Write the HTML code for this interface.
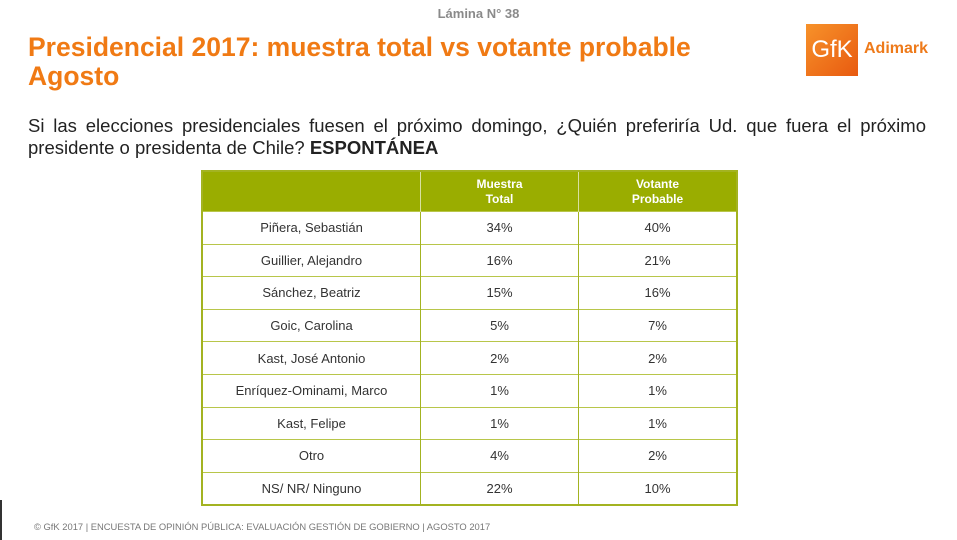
<!DOCTYPE html>
<html><head><meta charset="utf-8">
<style>
body{margin:0;width:957px;height:540px;background:#fff;position:relative;overflow:hidden;font-family:"Liberation Sans",sans-serif;}
.abs{position:absolute;}
#lamina{left:0;width:957px;top:6px;text-align:center;font-size:13px;font-weight:bold;color:#8a8a8a;}
#title{left:28px;top:33px;font-size:26.5px;font-weight:bold;color:#f07a14;line-height:29px;white-space:nowrap;}
#q{left:28px;top:115px;width:898px;font-size:18.5px;color:#222;line-height:22px;}
#q .l1{text-align:justify;text-align-last:justify;white-space:nowrap;}
#logo{left:806px;top:24px;width:52px;height:52px;background:linear-gradient(135deg,#f7922a,#e85a10);color:#fff;font-size:24px;line-height:52px;text-align:center;}
#adm{left:864px;top:40px;font-size:16px;font-weight:bold;color:#ee7a1a;}
table{position:absolute;left:201px;top:170px;border-collapse:collapse;border:2px solid #a3b321;}
th{background:#9aad00;color:#fff;font-size:12px;font-weight:bold;height:39px;padding:0;line-height:15px;border-left:1px solid #d8e0a0;}
td{height:31.6px;padding:0;text-align:center;font-size:13px;color:#333;border-top:1px solid #b8c64a;border-left:1px solid #a3b321;}
#foot{left:34px;top:521px;font-size:9.4px;color:#777;white-space:nowrap;}
#edge{left:0;top:500px;width:2px;height:40px;background:#333;}
</style></head><body>
<div class="abs" id="lamina">Lámina N° 38</div>
<div class="abs" id="title">Presidencial 2017: muestra total vs votante probable<br>Agosto</div>
<div class="abs" id="logo">GfK</div>
<div class="abs" id="adm">Adimark</div>
<div class="abs" id="q"><div class="l1">Si las elecciones presidenciales fuesen el próximo domingo, ¿Quién preferiría Ud. que fuera el próximo</div><div>presidente o presidenta de Chile? <b>ESPONTÁNEA</b></div></div>
<table>
<tr><th style="width:217px"></th><th style="width:157px">Muestra<br>Total</th><th style="width:157px">Votante<br>Probable</th></tr>
<tbody id="tb"></tbody>
</table>
<div class="abs" id="foot">© GfK 2017 | ENCUESTA DE OPINIÓN PÚBLICA: EVALUACIÓN GESTIÓN DE GOBIERNO | AGOSTO 2017</div>
<div class="abs" id="edge"></div>
<script>
const candidates=["Piñera, Sebastián","Guillier, Alejandro","Sánchez, Beatriz","Goic, Carolina","Kast, José Antonio","Enríquez-Ominami, Marco","Kast, Felipe","Otro","NS/ NR/ Ninguno"];
const muestraTotal=[34,16,15,5,2,1,1,4,22];
const votanteProbable=[40,21,16,7,2,1,1,2,10];
const tb=document.getElementById('tb');
candidates.forEach((c,i)=>{
  const tr=document.createElement('tr');
  
  
  [c,muestraTotal[i]+'%',votanteProbable[i]+'%'].forEach((v,j)=>{
    const td=document.createElement('td');
    
    
    td.textContent=v;tr.appendChild(td);
  });
  tb.appendChild(tr);
});
</script>
</body></html>
